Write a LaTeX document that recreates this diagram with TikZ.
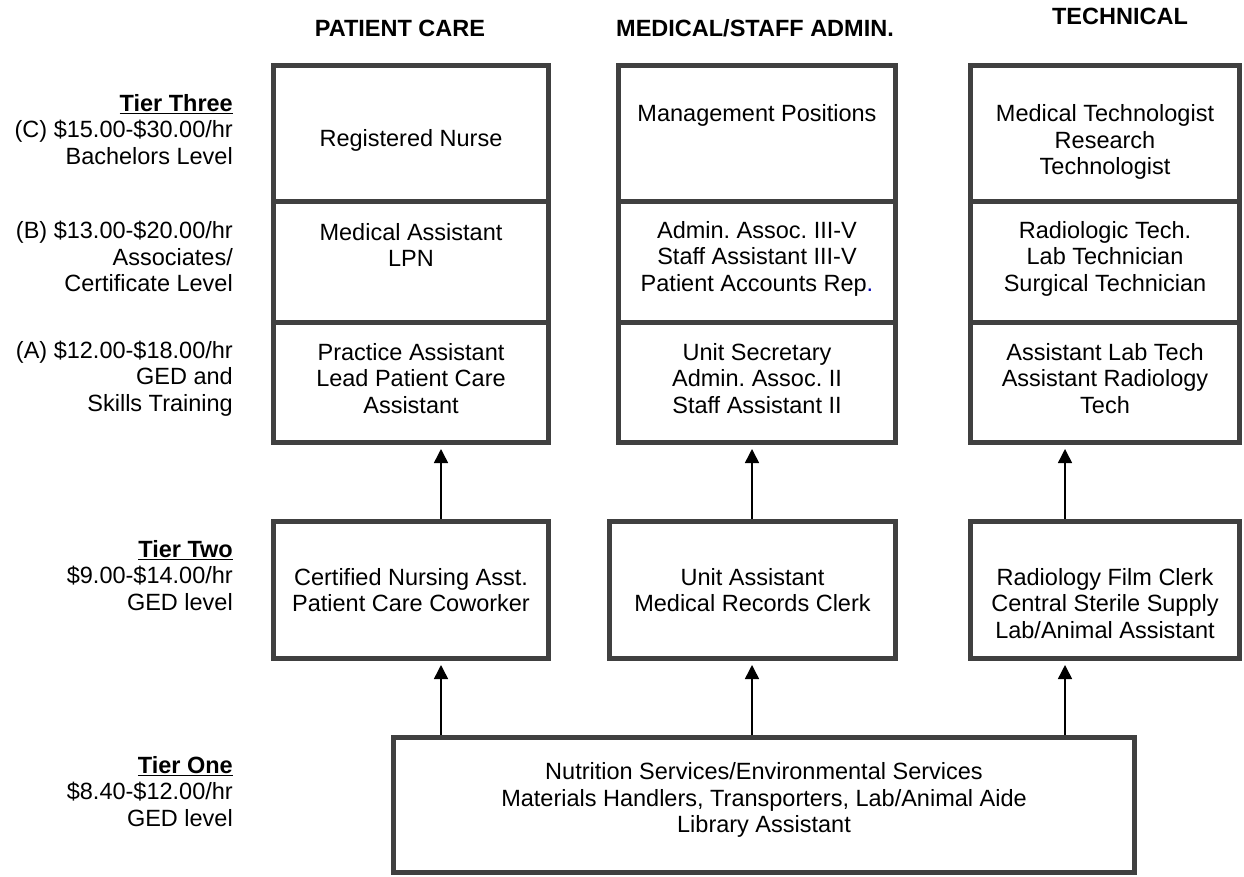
\documentclass[tikz,border=0pt]{standalone}
\usepackage{fontspec}
\setmainfont{Liberation Sans}
\usetikzlibrary{arrows.meta,positioning}
\definecolor{boxgray}{HTML}{404040}
\newcommand{\tiername}[1]{\underline{\textbf{#1}}}
\frenchspacing

\begin{document}
\begin{tikzpicture}[x=1pt,y=-1pt,>={Triangle[length=14pt,width=14pt]},
  every node/.style={font=\fontsize{23.5}{26.5}\selectfont},
  cell/.style={draw=boxgray,line width=5pt,inner sep=0pt},
  pc/.style={cell,minimum width=275pt},
  ms/.style={cell,minimum width=277pt},
  te/.style={cell,minimum width=269pt},
  box text/.style={align=center,inner sep=0pt},
  tier text/.style={align=right,anchor=east,inner sep=0pt},
  head/.style={font=\fontsize{23.5}{26.5}\selectfont\bfseries,inner sep=0pt},
  up/.style={->,line width=1.5pt,shorten >=4pt}]

  \useasboundingbox (0,0) rectangle (1244,877);

  % column headings
  \node[head] (hPC) at (400,28) {PATIENT CARE};
  \node[head] (hMS) at (755,28) {MEDICAL/STAFF ADMIN.};
  \node[head] (hTE) at (1120,16) {TECHNICAL};

  % tier three, levels C, B and A
  \node[pc,minimum height=136.5pt] (PCC) at (411,133.75) {};
  \node[pc,minimum height=120pt] (PCB) at (411,262) {};
  \node[pc,minimum height=120.5pt] (PCA) at (411,382.25) {};
  \node[ms,minimum height=136.5pt] (MSC) at (757,133.75) {};
  \node[ms,minimum height=120pt] (MSB) at (757,262) {};
  \node[ms,minimum height=120.5pt] (MSA) at (757,382.25) {};
  \node[te,minimum height=136.5pt] (TEC) at (1105,133.75) {};
  \node[te,minimum height=120pt] (TEB) at (1105,262) {};
  \node[te,minimum height=120.5pt] (TEA) at (1105,382.25) {};

  % tier two
  \node[pc,minimum height=137.5pt] (PC2) at (411,589.75) {};
  \node[cell,minimum width=286pt,minimum height=137.5pt] (MS2) at (752.5,589.75) {};
  \node[te,minimum height=137.5pt] (TE2) at (1105,589.75) {};

  % tier one
  \node[cell,minimum width=741pt,minimum height=135pt] (ONE) at (764,804.5) {};

  \node[box text] (tPCC) at (411,140) {Registered Nurse};
  \node[box text] (tPCB) at (411,245) {Medical Assistant\\LPN};
  \node[box text] (tPCA) at (411,378.5) {Practice Assistant\\Lead Patient Care\\Assistant};
  \node[box text] (tMSC) at (757,115) {Management Positions};
  \node[box text] (tMSB) at (757,258.5) {Admin. Assoc. III-V\\Staff Assistant III-V\\Patient Accounts Rep\textcolor{blue!70!black}{.}};
  \node[box text] (tMSA) at (757,378.5) {Unit Secretary\\Admin. Assoc. II\\Staff Assistant II};
  \node[box text] (tTEC) at (1105,142) {Medical Technologist\\Research\\Technologist};
  \node[box text] (tTEB) at (1105,258.5) {Radiologic Tech.\\Lab Technician\\Surgical Technician};
  \node[box text] (tTEA) at (1105,378.5) {Assistant Lab Tech\\Assistant Radiology\\Tech};
  \node[box text] (tPC2) at (411,590) {Certified Nursing Asst.\\Patient Care Coworker};
  \node[box text] (tMS2) at (752.5,590) {Unit Assistant\\Medical Records Clerk};
  \node[box text] (tTE2) at (1105,603.5) {Radiology Film Clerk\\Central Sterile Supply\\Lab/Animal Assistant};
  \node[box text] (tONE) at (764,800) {Nutrition Services/Environmental Services\\Materials Handlers, Transporters, Lab/Animal Aide\\Library Assistant};

  % pay levels on the left
  \node[tier text] (lC) at (233,129.5) {\tiername{Tier Three}\\(C) \$15.00-\$30.00/hr\\Bachelors Level};
  \node[tier text] (lB) at (233,256.5) {(B) \$13.00-\$20.00/hr\\Associates/\\Certificate Level};
  \node[tier text] (lA) at (233,378.5) {(A) \$12.00-\$18.00/hr\\GED and\\Skills Training};
  \node[tier text] (l2) at (233,575.5) {\tiername{Tier Two}\\\$9.00-\$14.00/hr\\GED level};
  \node[tier text] (l1) at (233,791.5) {\tiername{Tier One}\\\$8.40-\$12.00/hr\\GED level};

  \coordinate (col1) at (441,0);
  \coordinate (col2) at (752,0);
  \coordinate (col3) at (1065,0);

  \draw[up] (PC2.north -| col1) -- (PCA.south -| col1);
  \draw[up] (MS2.north -| col2) -- (MSA.south -| col2);
  \draw[up] (TE2.north -| col3) -- (TEA.south -| col3);
  \draw[up] (ONE.north -| col1) -- (PC2.south -| col1);
  \draw[up] (ONE.north -| col2) -- (MS2.south -| col2);
  \draw[up] (ONE.north -| col3) -- (TE2.south -| col3);

\end{tikzpicture}
\end{document}
